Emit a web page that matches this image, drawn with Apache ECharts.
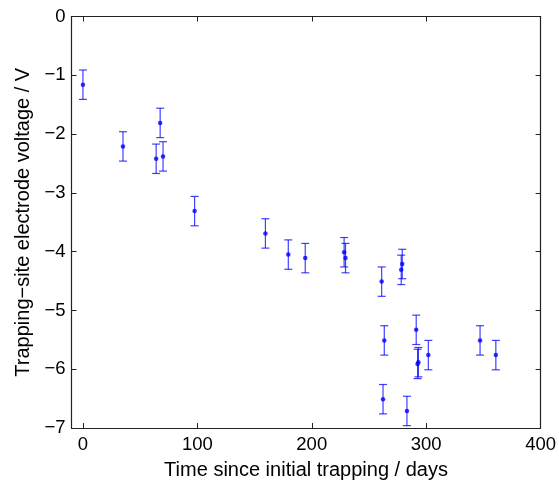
<!DOCTYPE html>
<html>
<head>
<meta charset="utf-8">
<script src="https://cdn.jsdelivr.net/npm/echarts@6/dist/echarts.min.js"></script>
<style>
  html, body { margin: 0; padding: 0; background: #fff; }
  #chart { width: 559px; height: 485px; }
</style>
</head>
<body>
<div id="chart"></div>
<script>
// days since initial trapping
const days = [0, 35, 64, 67.5, 70, 97.6, 159.5, 179.5, 194.3, 228.3, 229.5,
  261.1, 262.3, 263.4, 278.2, 279.1, 283.2, 291.3, 292.5, 293.2, 301.9, 347.1, 360.9];
// trapping-site electrode voltage (V)
const volts = [-1.16, -2.21, -2.42, -1.81, -2.38, -3.31, -3.69, -4.05, -4.11, -4.01, -4.11,
  -4.51, -6.51, -5.51, -4.31, -4.21, -6.71, -5.33, -5.91, -5.88, -5.76, -5.51, -5.76];
const errs = days.map(() => 0.25);

const xTicks = [0, 100, 200, 300, 400];

const font = '"Liberation Sans", Arial, sans-serif';
const axisColor = '#222';
const blue = '#0000ff';
const minus = (v) => String(v).replace('-', '\u2212');

const chart = echarts.init(document.getElementById('chart'));

const points = days.map((d, i) => [d, volts[i]]);
const bars = days.map((d, i) => [d, volts[i] - errs[i], volts[i] + errs[i]]);

const xBase = {
  type: 'value', min: -10, max: 400,
  axisLine: { show: true, onZero: false, lineStyle: { color: axisColor, width: 1.2 } },
  axisTick: { show: true, inside: true, length: 5, customValues: xTicks, lineStyle: { color: axisColor } },
  splitLine: { show: false }
};
const yBase = {
  type: 'value', min: -7, max: 0, interval: 1,
  axisLine: { show: true, onZero: false, lineStyle: { color: axisColor, width: 1.2 } },
  axisTick: { show: true, inside: true, length: 5, lineStyle: { color: axisColor } },
  splitLine: { show: false }
};

chart.setOption({
  animation: false,
  backgroundColor: '#fff',
  grid: { left: 71.5, right: 17.5, top: 16.5, bottom: 53.5 },
  xAxis: [
    Object.assign({}, xBase, {
      position: 'bottom',
      name: 'Time since initial trapping / days',
      nameLocation: 'middle',
      nameGap: 32,
      nameTextStyle: { fontFamily: font, fontSize: 20, color: '#000' },
      axisLabel: { customValues: xTicks, fontFamily: font, fontSize: 18.5, color: '#000', margin: 7 }
    }),
    Object.assign({}, xBase, { position: 'top', axisLabel: { show: false } })
  ],
  yAxis: [
    Object.assign({}, yBase, {
      position: 'left',
      name: 'Trapping\u2212site electrode voltage / V',
      nameLocation: 'middle',
      nameGap: 38,
      nameTextStyle: { fontFamily: font, fontSize: 20, color: '#000' },
      axisLabel: { fontFamily: font, fontSize: 18.5, color: '#000', margin: 6, formatter: minus }
    }),
    Object.assign({}, yBase, { position: 'right', axisLabel: { show: false } })
  ],
  series: [
    {
      type: 'custom',
      data: bars,
      renderItem: (params, api) => {
        const x = api.value(0);
        const lo = api.coord([x, api.value(1)]);
        const hi = api.coord([x, api.value(2)]);
        const w = 4;
        const style = { stroke: blue, lineWidth: 1.2, opacity: 0.75 };
        return {
          type: 'group',
          children: [
            { type: 'line', shape: { x1: lo[0], y1: lo[1], x2: hi[0], y2: hi[1] }, style },
            { type: 'line', shape: { x1: lo[0] - w, y1: lo[1], x2: lo[0] + w, y2: lo[1] }, style },
            { type: 'line', shape: { x1: hi[0] - w, y1: hi[1], x2: hi[0] + w, y2: hi[1] }, style }
          ]
        };
      },
      z: 2
    },
    {
      type: 'scatter',
      data: points,
      symbol: 'circle',
      symbolSize: 4.5,
      itemStyle: { color: blue },
      z: 3
    }
  ]
});
</script>
</body>
</html>
